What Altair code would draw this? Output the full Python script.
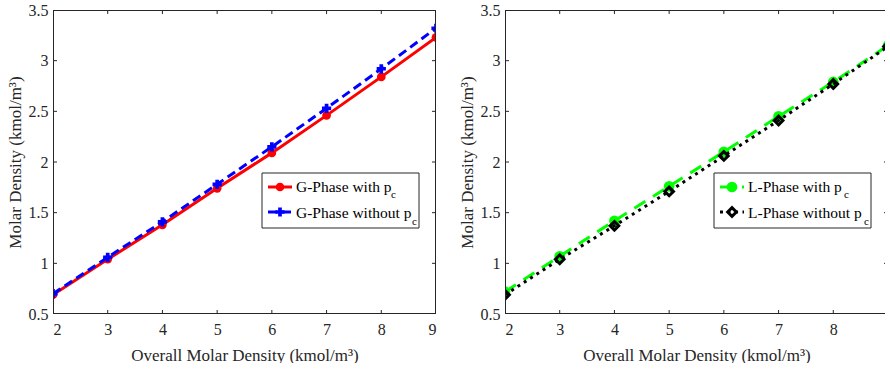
import altair as alt
import pandas as pd

# ---------------- data ----------------
overall_density = [2, 3, 4, 5, 6, 7, 8, 9]
g_with_pc = [0.69, 1.04, 1.38, 1.74, 2.09, 2.46, 2.84, 3.23]
g_without_pc = [0.70, 1.06, 1.41, 1.78, 2.15, 2.53, 2.92, 3.32]
l_with_pc = [0.72, 1.07, 1.42, 1.76, 2.10, 2.45, 2.79, 3.15]
l_without_pc = [0.69, 1.04, 1.37, 1.71, 2.06, 2.41, 2.77, 3.14]

x_ticks = [2, 3, 4, 5, 6, 7, 8, 9]
x_labels_right = [2, 3, 4, 5, 6, 7, 8]
y_ticks = [0.5, 1.0, 1.5, 2.0, 2.5, 3.0, 3.5]

left_labels = ["G-Phase with p", "G-Phase without p"]
right_labels = ["L-Phase with p", "L-Phase without p"]
subscript = "c"

x_title = "Overall Molar Density (kmol/m³)"
y_title = "Molar Density (kmol/m³)"

# ---------------- style ----------------
W, H = 383, 304
W_RIGHT_VISIBLE = 380
FONT = "Liberation Serif"
AX = "#262626"

yscale = alt.Scale(domain=[0.5, 3.5], nice=False, zero=False)
yaxis = alt.Axis(values=y_ticks, format="~g", ticks=False, grid=False, domain=False,
                 labelPadding=5, titlePadding=4, minExtent=25, maxExtent=25)

one = pd.DataFrame({"a": [0]})


def make_panel(series, labels, styles, sub_x, label_values, vis_w):
    xscale = alt.Scale(domain=[2, 9], nice=False, zero=False, range=[0, W])
    xaxis = alt.Axis(values=label_values, ticks=False, grid=False, domain=False,
                     labelPadding=7, titlePadding=10)

    def X(f):
        return alt.X(f, scale=xscale, axis=xaxis, title=x_title)

    def Y(f):
        return alt.Y(f, scale=yscale, axis=yaxis, title=y_title)

    layers = []
    for yvals, st in zip(series, styles):
        color, dash, shape, size, filled, pstroke = st
        df = pd.DataFrame({"x": overall_density, "y": yvals})
        lkw = dict(color=color, strokeWidth=3, strokeCap="butt", clip=True)
        if dash:
            lkw["strokeDash"] = dash
        layers.append(alt.Chart(df).mark_line(**lkw).encode(x=X("x:Q"), y=Y("y:Q")))
        pkw = dict(shape=shape, size=size, filled=filled, opacity=1, clip=True)
        if filled:
            pkw["color"] = color
        else:
            pkw.update(stroke=color, strokeWidth=pstroke)
        layers.append(alt.Chart(df).mark_point(**pkw).encode(x=X("x:Q"), y=Y("y:Q")))

    # box frame and inward ticks
    r = dict(color=AX, strokeWidth=1, clip=True)
    layers.append(alt.Chart(one).mark_rule(**r).encode(
        x=alt.value(0), x2=alt.value(W), y=alt.value(0.5)))
    layers.append(alt.Chart(one).mark_rule(**r).encode(
        x=alt.value(0), x2=alt.value(W), y=alt.value(H - 0.5)))
    layers.append(alt.Chart(one).mark_rule(**r).encode(
        x=alt.value(0.5), y=alt.value(0), y2=alt.value(H)))
    layers.append(alt.Chart(one).mark_rule(**r).encode(
        x=alt.value(W - 0.5), y=alt.value(0), y2=alt.value(H)))
    xt = pd.DataFrame({"x": x_ticks})
    yt = pd.DataFrame({"y": y_ticks})
    layers.append(alt.Chart(xt).mark_rule(**r).encode(
        x=X("x:Q"), y=alt.value(H), y2=alt.value(H - 4)))
    layers.append(alt.Chart(xt).mark_rule(**r).encode(
        x=X("x:Q"), y=alt.value(0), y2=alt.value(4)))
    layers.append(alt.Chart(yt).mark_rule(**r).encode(
        y=Y("y:Q"), x=alt.value(0), x2=alt.value(4)))
    layers.append(alt.Chart(yt).mark_rule(**r).encode(
        y=Y("y:Q"), x=alt.value(W), x2=alt.value(W - 4)))

    # legend
    layers.append(alt.Chart(one).mark_rect(fill="white", stroke=AX, strokeWidth=1).encode(
        x=alt.value(209), x2=alt.value(366), y=alt.value(163), y2=alt.value(218)))
    rows_y = [177, 202]
    text_y = [182, 208]
    sub_y = [188, 215]
    for i, (lab, st) in enumerate(zip(labels, styles)):
        color, dash, shape, size, filled, pstroke = st
        lkw = dict(color=color, strokeWidth=3, strokeCap="butt")
        if dash:
            lkw["strokeDash"] = dash
        layers.append(alt.Chart(one).mark_rule(**lkw).encode(
            x=alt.value(215), x2=alt.value(239), y=alt.value(rows_y[i])))
        pkw = dict(shape=shape, size=size, filled=filled, opacity=1)
        if filled:
            pkw["color"] = color
        else:
            pkw.update(stroke=color, strokeWidth=pstroke)
        layers.append(alt.Chart(one).mark_point(**pkw).encode(
            x=alt.value(227), y=alt.value(rows_y[i])))
        tdf = pd.DataFrame({"t": [lab]})
        layers.append(alt.Chart(tdf).mark_text(
            align="left", baseline="alphabetic", font=FONT, fontSize=15.5, color="black"
        ).encode(x=alt.value(243), y=alt.value(text_y[i]), text="t:N"))
        sdf = pd.DataFrame({"t": [subscript]})
        layers.append(alt.Chart(sdf).mark_text(
            align="left", baseline="alphabetic", font=FONT, fontSize=11, color="black"
        ).encode(x=alt.value(sub_x[i]), y=alt.value(sub_y[i]), text="t:N"))
    return alt.layer(*layers).properties(width=vis_w, height=H)


red = ("#ff0000", None, "circle", 75, True, 1)
blue = ("#0000ff", [9, 5], "cross", 85, True, 1)
green = ("#00ff00", [13, 9], "circle", 115, True, 1)
black = ("#000000", [3, 4.5], "diamond", 75, False, 3)

left = make_panel([g_with_pc, g_without_pc], left_labels, [red, blue],
                  [338, 359], x_ticks, W)
right = make_panel([l_with_pc, l_without_pc], right_labels, [green, black],
                   [339, 359], x_labels_right, W_RIGHT_VISIBLE)

chart = alt.hconcat(left, right, spacing=69, bounds="flush").resolve_scale(
    x="independent"
).properties(
    padding={"left": 6, "top": 2, "right": 0, "bottom": 0},
    background="white",
).configure_view(
    strokeWidth=0
).configure_axis(
    labelFont=FONT, titleFont=FONT, labelFontSize=16, titleFontSize=17,
    titleFontWeight="normal", labelColor=AX, titleColor=AX,
)

chart.save("out.html", embed_options={"renderer": "svg", "actions": False})
